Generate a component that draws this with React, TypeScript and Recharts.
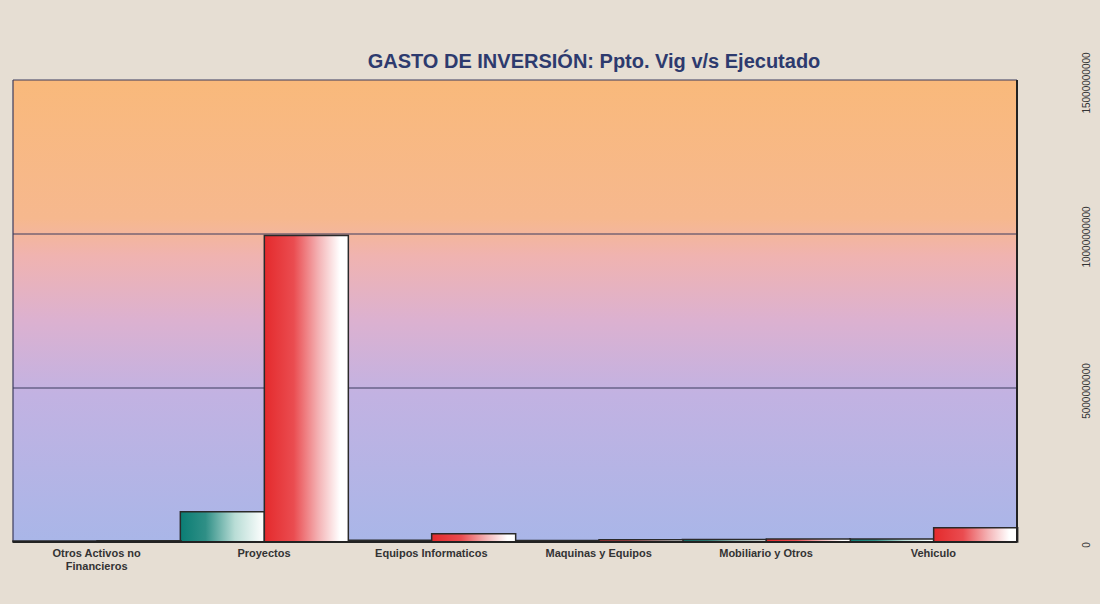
import { BarChart, Bar, XAxis, YAxis, CartesianGrid } from 'recharts';

const categories = [
  'Otros Activos no Financieros',
  'Proyectos',
  'Equipos Informaticos',
  'Maquinas y Equipos',
  'Mobiliario y Otros',
  'Vehiculo',
];
const pptoVig = [30000000, 980000000, 60000000, 50000000, 80000000, 100000000];
const ejecutado = [40000000, 9950000000, 270000000, 70000000, 100000000, 460000000];
const yTicks = [0, 5000000000, 10000000000, 15000000000];

const data = categories.map((name, i) => ({
  name,
  ppto: pptoVig[i],
  ejec: ejecutado[i],
}));

const XTick = (props: any) => {
  const { x, y, payload } = props;
  const lines: string[] =
    payload.value === 'Otros Activos no Financieros'
      ? ['Otros Activos no', 'Financieros']
      : [payload.value];
  return (
    <text
      x={x}
      y={y + 1}
      textAnchor="middle"
      fill="#333"
      fontSize={11}
      fontWeight="bold"
      fontFamily="Liberation Sans, Arial, sans-serif"
    >
      {lines.map((l, i) => (
        <tspan key={i} x={x} dy={i === 0 ? 6 : 13}>
          {l}
        </tspan>
      ))}
    </text>
  );
};

const YTick = (props: any) => {
  const { x, y, payload } = props;
  return (
    <text
      transform={`translate(${x + 65},${y + 3}) rotate(-90)`}
      textAnchor="middle"
      fill="#333"
      fontSize={10}
      fontFamily="Liberation Sans, Arial, sans-serif"
    >
      {payload.value}
    </text>
  );
};

export default function App() {
  return (
    <div
      style={{
        position: 'absolute',
        left: 0,
        top: 0,
        width: 1100,
        height: 604,
        background: '#e6ded3',
      }}
    >
      <div
        style={{
          position: 'absolute',
          left: 0,
          width: 1188,
          top: 50,
          textAlign: 'center',
          fontFamily: 'Liberation Sans, Arial, sans-serif',
          fontWeight: 'bold',
          fontSize: 20,
          color: '#2d3a6e',
        }}
      >
        GASTO DE INVERSIÓN: Ppto. Vig v/s Ejecutado
      </div>
      <BarChart
        width={1100}
        height={604}
        data={data}
        margin={{ top: 80, right: 0, bottom: 12, left: 13 }}
        barCategoryGap="0%"
        barGap={0}
      >
        <defs>
          <linearGradient id="bgGrad" x1="0" y1="0" x2="0" y2="1">
            <stop offset="0%" stopColor="#f9b97b" />
            <stop offset="30%" stopColor="#f6b88e" />
            <stop offset="38%" stopColor="#f0b3b0" />
            <stop offset="52%" stopColor="#dcb1d0" />
            <stop offset="68%" stopColor="#c2b2e2" />
            <stop offset="100%" stopColor="#a9b6e8" />
          </linearGradient>
          <linearGradient id="tealGrad" x1="0" y1="0" x2="1" y2="0">
            <stop offset="0%" stopColor="#0a7d74" />
            <stop offset="30%" stopColor="#2f8f86" />
            <stop offset="65%" stopColor="#b9ddd6" />
            <stop offset="100%" stopColor="#ffffff" />
          </linearGradient>
          <linearGradient id="redGrad" x1="0" y1="0" x2="1" y2="0">
            <stop offset="0%" stopColor="#e42a2c" />
            <stop offset="35%" stopColor="#ea4c50" />
            <stop offset="65%" stopColor="#f4b4b6" />
            <stop offset="90%" stopColor="#ffffff" />
            <stop offset="100%" stopColor="#ffffff" />
          </linearGradient>
        </defs>
        <CartesianGrid
          fill="url(#bgGrad)"
          fillOpacity={1}
          stroke="#3b3b5e"
          strokeWidth={1.2}
          verticalCoordinatesGenerator={({ offset }: any) => [
            offset.left,
            offset.left + offset.width,
          ]}
        />
        <XAxis
          dataKey="name"
          height={50}
          interval={0}
          tick={<XTick />}
          tickLine={false}
          axisLine={{ stroke: '#222', strokeWidth: 2 }}
        />
        <YAxis
          orientation="right"
          width={83}
          domain={[0, 15000000000]}
          ticks={yTicks}
          tick={<YTick />}
          tickLine={false}
          axisLine={{ stroke: '#222', strokeWidth: 2 }}
        />
        <Bar
          dataKey="ppto"
          name="Ppto. Vig"
          fill="url(#tealGrad)"
          stroke="#2a2a2a"
          strokeWidth={1.5}
          isAnimationActive={false}
        />
        <Bar
          dataKey="ejec"
          name="Ejecutado"
          fill="url(#redGrad)"
          stroke="#2a2a2a"
          strokeWidth={1.5}
          isAnimationActive={false}
        />
      </BarChart>
    </div>
  );
}
